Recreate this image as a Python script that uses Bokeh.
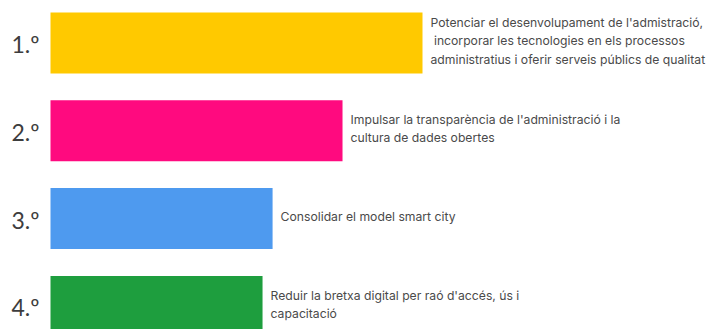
from bokeh.plotting import figure
from bokeh.models import ColumnDataSource, Range1d
from bokeh.core.properties import value
from bokeh.embed import file_html
from bokeh.resources import INLINE

ranks = ["1.º", "2.º", "3.º", "4.º"]
scores = [100.0, 78.5, 59.7, 57.0]
descriptions = [
    "Potenciar el desenvolupament de l'admistració,\n\u00a0incorporar les tecnologies en els processos\nadministratius i oferir serveis públics de qualitat",
    "Impulsar la transparència de l'administració i la\ncultura de dades obertes",
    "Consolidar el model smart city",
    "Reduir la bretxa digital per raó d'accés, ús i\ncapacitació",
]
colors = ["#FFC900", "#FF0A7F", "#4E9AEF", "#1E9E3E"]

W, H = 716, 329
px_per_unit = 3.72
left_pad = 50
row_px = 87.8
first_center = 42.5

pos = list(range(len(ranks)))
src = ColumnDataSource(dict(y=pos, score=scores, rank=ranks, desc=descriptions,
                            color=colors, zero=[0] * len(ranks)))

p = figure(width=W, height=H, output_backend="svg", toolbar_location=None,
           x_range=Range1d(-left_pad / px_per_unit, (W - left_pad) / px_per_unit),
           y_range=Range1d((H - first_center) / row_px, -first_center / row_px),
           min_border=0)
p.axis.visible = False
p.grid.visible = False
p.outline_line_color = None
p.background_fill_color = "white"
p.border_fill_color = "white"

p.hbar(y="y", left="zero", right="score", height=0.695, color="color",
       line_color=None, source=src)

p.text(x="zero", y="y", text="rank", source=src, x_offset=-11, y_offset=1,
       text_align="right", text_baseline="middle",
       text_font=value("Lato"), text_font_size="23px", text_color="#3d3d3d")

p.text(x="score", y="y", text="desc", source=src, x_offset=8, y_offset=-2,
       text_align="left", text_baseline="middle",
       text_font=value("Inter"), text_font_size="12.2px", text_color="#4a4a4a",
       text_line_height=1.22)

open("out.html", "w").write(file_html(p, INLINE))
